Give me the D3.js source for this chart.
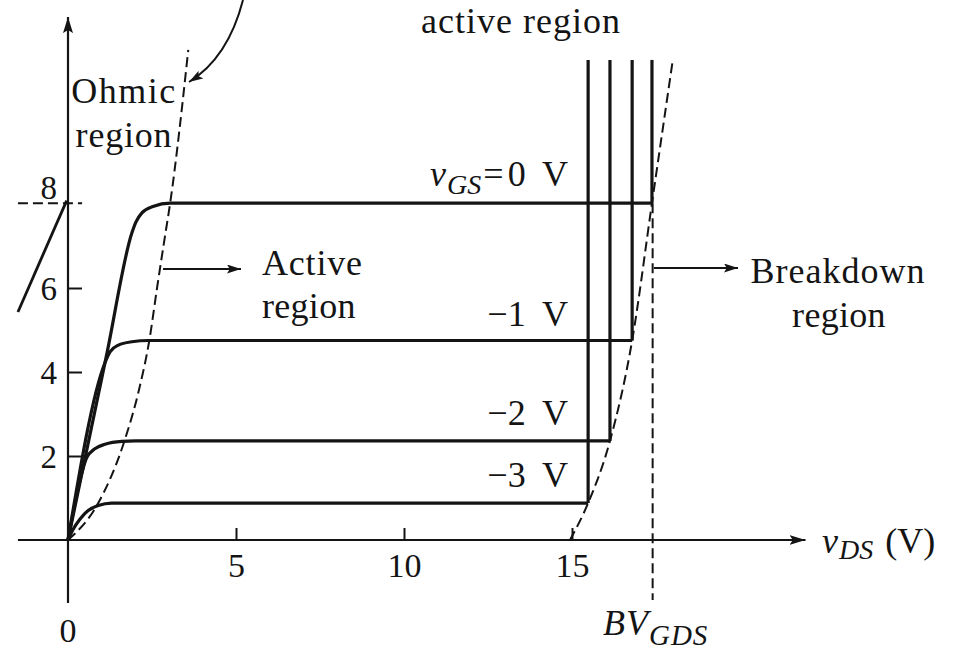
<!DOCTYPE html>
<html><head><meta charset="utf-8">
<script src="https://cdn.jsdelivr.net/npm/d3@7"></script>
<style>body{margin:0;background:#fff}</style>
</head><body>
<svg id="c" width="953" height="651"></svg>
<script>
// ---- data ----
const xTickValues = [5, 10, 15];
const yTickValues = [2, 4, 6, 8];
const gateLabels = ["0 V", "−1 V", "−2 V", "−3 V"];
const curve0V  = [[0,0],[1.16,4.45],[1.9,7.31],[2.02,7.57],[2.2,7.79],[2.53,7.94],[3.04,8.02],[3.5,8.02],[17.38,8.02]];
const curveM1V = [[0,0],[1.1,4.22],[1.25,4.48],[1.5,4.64],[1.9,4.72],[2.4,4.75],[16.79,4.75]];
const curveM2V = [[0,0],[0.42,1.62],[0.55,1.95],[0.8,2.17],[1.1,2.28],[1.6,2.35],[2.0,2.36],[16.13,2.36]];
const curveM3V = [[0,0],[0.15,0.25],[0.36,0.5],[0.6,0.7],[0.9,0.82],[1.3,0.88],[15.48,0.88]];
const breakdownV = [17.38, 16.79, 16.13, 15.48];
const breakdownTop = 11.43;
const ohmicBoundary = [[0,0],[0.9,0.88],[1.68,2.36],[2.12,3.6],[2.42,4.75],[2.65,6.0],[2.88,7.2],[3.04,8.02],[3.58,11.67]];
const breakdownBoundary = [[14.94,0],[15.48,0.88],[16.13,2.36],[16.79,4.75],[17.38,8.02],[18.0,11.43]];
const bvGDS = 17.4;
const bvGDSRange = [8.02, -1.43];
const reverseSegment = [[-1.49,5.43],[-0.04,8.08]];
const idssGuide = [[-1.49,8.02],[0.42,8.02]];

// ---- drawing ----
const svg = d3.select("#c");
const FONT = "Liberation Serif, Times New Roman, serif";
const INK = "#141414";
const x = d3.scaleLinear().domain([0, 20]).range([68, 740]);
const y = d3.scaleLinear().domain([0, 8]).range([540, 204]);

const defs = svg.append("defs");
function marker(id, len, wid) {
  defs.append("marker").attr("id", id).attr("markerUnits", "userSpaceOnUse")
    .attr("viewBox", `0 0 ${len} ${wid}`).attr("refX", len).attr("refY", wid/2)
    .attr("markerWidth", len).attr("markerHeight", wid).attr("orient", "auto")
    .append("path").attr("d", `M0,0 L${len},${wid/2} L0,${wid} L${len*0.2},${wid/2} Z`).attr("fill", INK);
}
marker("axArrow", 16, 10);
marker("smArrow", 14, 9);

const lineX = d3.line().x(d => x(d[0])).y(d => y(d[1]));
const smooth = d3.line().x(d => x(d[0])).y(d => y(d[1])).curve(d3.curveMonotoneX);

// axes lines with arrows
svg.append("line").attr("x1", x(-1.49)).attr("x2", x(21.95)).attr("y1", y(0)).attr("y2", y(0))
  .attr("stroke", INK).attr("stroke-width", 2.2).attr("marker-end", "url(#axArrow)");
svg.append("line").attr("x1", x(0)).attr("x2", x(0)).attr("y1", y(-1.5)).attr("y2", y(12.45))
  .attr("stroke", INK).attr("stroke-width", 2.2).attr("marker-end", "url(#axArrow)");

// x axis ticks
const xa = svg.append("g").attr("transform", `translate(0,${y(0)})`)
  .call(d3.axisBottom(x).tickValues(xTickValues).tickSizeInner(-12).tickSizeOuter(0).tickPadding(13));
xa.select(".domain").remove();
xa.selectAll("line").attr("stroke", INK).attr("stroke-width", 2);
xa.selectAll("text").attr("font-family", FONT).attr("font-size", 34).attr("fill", INK);

// y axis ticks
const ya = svg.append("g").attr("transform", `translate(${x(0)},0)`)
  .call(d3.axisLeft(y).tickValues(yTickValues).tickSizeInner(-14).tickSizeOuter(0).tickPadding(11));
ya.select(".domain").remove();
ya.selectAll("line").attr("stroke", INK).attr("stroke-width", 2);
ya.selectAll("text").attr("font-family", FONT).attr("font-size", 33).attr("fill", INK)
  .attr("dy", d => d === 8 ? "-0.18em" : "0.36em");
ya.selectAll(".tick").filter(d => d === 8).select("line").remove();

svg.append("text").attr("x", x(0)).attr("y", 642).attr("text-anchor", "middle")
  .attr("font-family", FONT).attr("font-size", 34).attr("fill", INK).text("0");

// dashed guides
const dashed = (sel) => sel.attr("fill", "none").attr("stroke", INK).attr("stroke-width", 2).attr("stroke-dasharray", "10,5");
svg.append("path").datum(ohmicBoundary).attr("d", smooth).call(dashed);
svg.append("path").datum(breakdownBoundary).attr("d", smooth).call(dashed);
svg.append("line").attr("x1", x(bvGDS)).attr("x2", x(bvGDS)).attr("y1", y(bvGDSRange[0])).attr("y2", y(bvGDSRange[1])).call(dashed);
svg.append("path").datum(idssGuide).attr("d", lineX).call(dashed);

// reverse segment at left
svg.append("path").datum(reverseSegment).attr("d", lineX).attr("fill", "none").attr("stroke", INK).attr("stroke-width", 2.8);

// characteristic curves
const curves = [curve0V, curveM1V, curveM2V, curveM3V];
curves.forEach((c, i) => {
  svg.append("path").datum(c).attr("d", smooth).attr("fill", "none").attr("stroke", INK).attr("stroke-width", 3.2);
  svg.append("line").attr("x1", x(breakdownV[i])).attr("x2", x(breakdownV[i]))
    .attr("y1", y(c[c.length-1][1])).attr("y2", y(breakdownTop))
    .attr("stroke", INK).attr("stroke-width", 3.2);
});

// text helpers
function txt(xp, yp, anchor) {
  return svg.append("text").attr("x", xp).attr("y", yp).attr("text-anchor", anchor || "start")
    .attr("font-family", FONT).attr("font-size", 36).attr("fill", INK);
}

// gate-voltage labels
const lab0 = txt(568, 186, "end");
lab0.append("tspan").attr("font-style", "italic").text("v");
lab0.append("tspan").attr("font-style", "italic").attr("font-size", 28).attr("dy", 8).attr("dx", 1).text("GS");
lab0.append("tspan").attr("dy", -8).attr("dx", 2).text("=");
lab0.append("tspan").attr("dx", 4).attr("word-spacing", 8).text(gateLabels[0]);
const labBase = [326, 425, 487];
gateLabels.slice(1).forEach((g, i) => {
  txt(568, labBase[i], "end").attr("word-spacing", 8).text(g);
});

// region labels
txt(124, 103, "middle").attr("letter-spacing", 1.5).text("Ohmic");
txt(124, 147, "middle").attr("letter-spacing", 0.8).text("region");
txt(262, 275).attr("letter-spacing", 0.8).text("Active");
txt(262, 318).attr("letter-spacing", 0.3).text("region");
txt(838, 283, "middle").attr("letter-spacing", 1).text("Breakdown");
txt(839, 327, "middle").attr("letter-spacing", 0.3).text("region");
txt(521, 33, "middle").attr("letter-spacing", 1).text("active region");

// annotation arrows
svg.append("line").attr("x1", 163).attr("x2", 241).attr("y1", 269).attr("y2", 269)
  .attr("stroke", INK).attr("stroke-width", 2).attr("marker-end", "url(#smArrow)");
svg.append("line").attr("x1", 654).attr("x2", 738).attr("y1", 268).attr("y2", 268)
  .attr("stroke", INK).attr("stroke-width", 2).attr("marker-end", "url(#smArrow)");
svg.append("path").attr("d", "M243,0 Q228,58 189,82").attr("fill", "none")
  .attr("stroke", INK).attr("stroke-width", 2).attr("marker-end", "url(#smArrow)");

// axis labels
const xl = txt(822, 553);
xl.append("tspan").attr("font-style", "italic").text("v");
xl.append("tspan").attr("font-style", "italic").attr("font-size", 28).attr("dy", 6).attr("dx", 1).text("DS");
xl.append("tspan").attr("dy", -6).attr("dx", 12).text("(V)");

const bl = txt(603, 635);
bl.append("tspan").attr("font-style", "italic").attr("letter-spacing", 1).text("BV");
bl.append("tspan").attr("font-style", "italic").attr("font-size", 29).attr("dy", 10).attr("letter-spacing", 1).text("GDS");
</script>
</body></html>
